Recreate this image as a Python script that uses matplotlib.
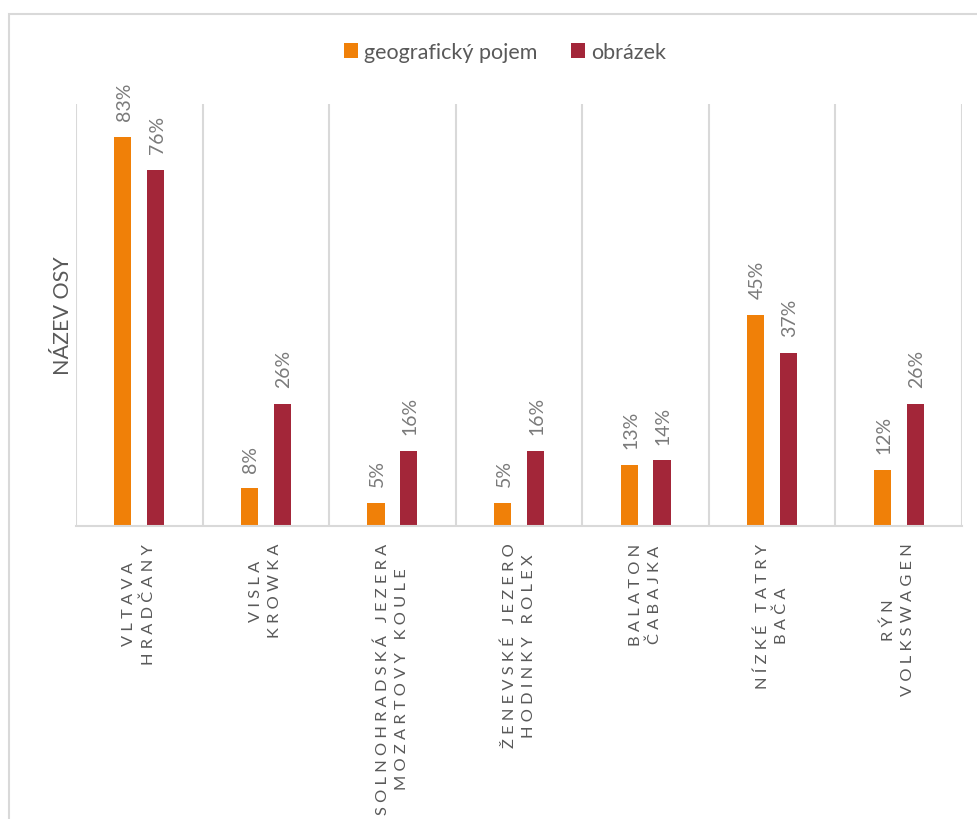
import numpy as np
import matplotlib.pyplot as plt
from matplotlib.patches import Rectangle

# DATA

line1 = ["VLTAVA", "VISLA", "SOLNOHRADSKÁ JEZERA", "ŽENEVSKÉ JEZERO",
         "BALATON", "NÍZKÉ TATRY", "RÝN"]
line2 = ["HRADČANY", "KROWKA", "MOZARTOVY KOULE", "HODINKY ROLEX",
         "ČABAJKA", "BAČA", "VOLKSWAGEN"]
geo = [0.83, 0.08, 0.05, 0.05, 0.13, 0.45, 0.12]
img = [0.76, 0.26, 0.16, 0.16, 0.14, 0.37, 0.26]
series_names = ["geografický pojem", "obrázek"]

# STYLE

plt.rcParams["font.family"] = ["Lato", "DejaVu Sans"]
text_color = "#595959"
value_color = "#7a7a7a"
grid_color = "#d9d9d9"
orange = "#f08008"
red = "#a32639"


def spaced(s):
    return " ".join(s)


labels = [spaced(a) + "\n" + spaced(b) for a, b in zip(line1, line2)]

# FIGURE

fig = plt.figure(figsize=(9.78, 8.2), dpi=100)
W, H = 978, 820

# outer chart border
fig.patches.append(
    Rectangle((9 / W, -0.1), 1.2, 1 - 15 / H + 0.1,
              transform=fig.transFigure, fill=False,
              edgecolor=grid_color, linewidth=1.5)
)

ax = fig.add_axes([76 / W, 1 - 527 / H, (962 - 76) / W, (527 - 105) / H])

x = np.arange(len(labels))
off = 0.13
width = 0.135

b1 = ax.bar(x - off, geo, width, color=orange, label=series_names[0])
b2 = ax.bar(x + off, img, width, color=red, label=series_names[1])

for bars, vals in [(b1, geo), (b2, img)]:
    for bar, v in zip(bars, vals):
        ax.annotate(
            f"{v * 100:.0f}%",
            (bar.get_x() + bar.get_width() / 2, v),
            xytext=(1, 12),
            textcoords="offset points",
            rotation=90,
            ha="center",
            va="bottom",
            fontsize=14,
            color=value_color
        )

ax.set_xlim(-0.5, len(labels) - 0.5)
ax.set_ylim(0, 0.9)

# vertical separators between categories
for b in np.arange(-0.5, len(labels), 1):
    ax.axvline(b, color=grid_color, linewidth=1.5, zorder=0)

for s in ["top", "right", "left"]:
    ax.spines[s].set_visible(False)
ax.spines["bottom"].set_color(grid_color)
ax.spines["bottom"].set_linewidth(1.5)

ax.set_yticks([])
ax.set_xticks(x)
ax.set_xticklabels(labels, rotation=90, ha="center", va="top",
                   multialignment="center", fontsize=11.8,
                   color=text_color, linespacing=1.45)
ax.tick_params(axis="x", length=0, pad=12)

ax.set_ylabel("NÁZEV OSY", fontsize=15.5, color=text_color, labelpad=2)

fig.legend(
    loc="center",
    bbox_to_anchor=(505 / W, 1 - 53 / H),
    ncol=2,
    frameon=False,
    fontsize=15.5,
    labelcolor=text_color,
    handlelength=0.65,
    handleheight=0.65,
    handletextpad=0.25,
    columnspacing=1.6
)

fig.savefig("out.png", dpi=100)
